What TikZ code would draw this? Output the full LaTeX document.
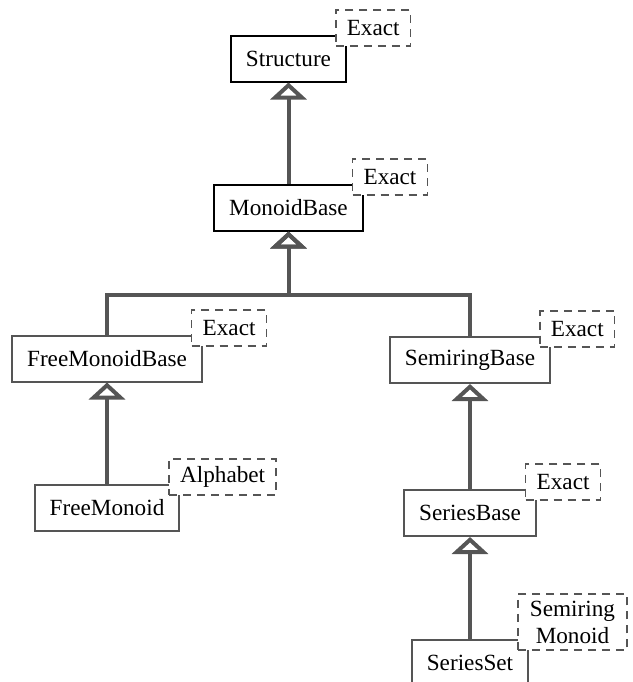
\documentclass[tikz,border=0pt]{standalone}
\usepackage{fontspec}
\setmainfont{Liberation Serif}
\usetikzlibrary{arrows.meta}
\definecolor{linegray}{RGB}{85,85,85}
\tikzset{
  cls/.style={draw=linegray, line width=1pt, fill=white, minimum height=23pt, inner xsep=7.5pt,
    font=\fontsize{11.6}{13.6}\selectfont},
  topcls/.style={cls, draw=black},
  param/.style={draw=linegray, dash pattern=on 4pt off 3pt, line width=0.8pt, fill=white,
    minimum height=18pt, inner xsep=5.5pt, anchor=south west, xshift=-6pt, yshift=-6pt,
    font=\fontsize{11.6}{13.6}\selectfont},
  inherit/.style={draw=linegray, line width=2pt, -{Triangle[open, width=18pt, length=8.5pt]}}
}
\begin{document}
\begin{tikzpicture}[x=0.5pt,y=-0.5pt]
\useasboundingbox (0,0) rectangle (633,682);
\clip (0,0) rectangle (633,682);
% classes
\node[topcls] (st) at (288.5,58.5) {Structure};
\node[topcls] (mb) at (288.5,207.5) {MonoidBase};
\node[cls] (fmb) at (107,358.5) {FreeMonoidBase};
\node[cls] (smb) at (470,360) {SemiringBase};
\node[cls] (fm) at (107,508) {FreeMonoid};
\node[cls] (sb) at (470,513) {SeriesBase};
\node[cls] (ss) at (470,663) {SeriesSet};
% template parameters
\node[param] (stP) at (st.north east) {Exact};
\node[param] (mbP) at (mb.north east) {Exact};
\node[param] (fmbP) at (fmb.north east) {Exact};
\node[param] (smbP) at (smb.north east) {Exact};
\node[param] (fmP) at (fm.north east) {Alphabet};
\node[param] (sbP) at (sb.north east) {Exact};
\node[param, align=center, inner xsep=6pt] (ssP) at (ss.north east) {Semiring\\Monoid};
% inheritance
\coordinate (bar) at (0,295);
\draw[inherit] (mb.north) -- (st.south);
\draw[inherit] (fmb.north) -- (fmb.north |- bar) -| (mb.south);
\draw[inherit] (smb.north) -- (smb.north |- bar) -| (mb.south);
\draw[inherit] (fm.north) -- (fmb.south);
\draw[inherit] (sb.north) -- (smb.south);
\draw[inherit] (ss.north) -- (sb.south);
\end{tikzpicture}
\end{document}
